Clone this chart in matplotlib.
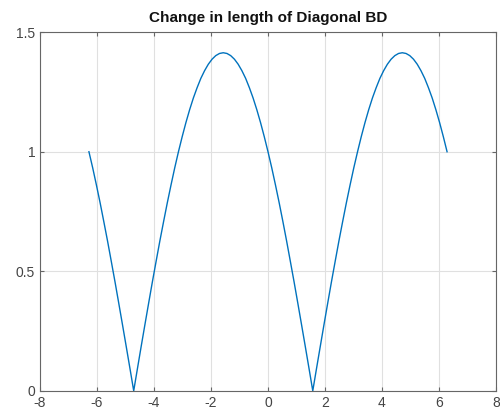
import matplotlib
matplotlib.use("Agg")
import matplotlib.pyplot as plt

# angle samples (radians) and the measured change in length of diagonal BD
x_vals = [-6.283, -6.152, -6.021, -5.890, -5.760, -5.629, -5.498, -5.367,
          -5.236, -5.105, -4.974, -4.843, -4.712, -4.581, -4.451, -4.320,
          -4.189, -4.058, -3.927, -3.796, -3.665, -3.534, -3.403, -3.272,
          -3.142, -3.011, -2.880, -2.749, -2.618, -2.487, -2.356, -2.225,
          -2.094, -1.963, -1.833, -1.702, -1.571, -1.440, -1.309, -1.178,
          -1.047, -0.916, -0.785, -0.654, -0.524, -0.393, -0.262, -0.131,
          0.000,
          0.131, 0.262, 0.393, 0.524, 0.654, 0.785, 0.916, 1.047,
          1.178, 1.309, 1.440, 1.571, 1.702, 1.833, 1.963, 2.094,
          2.225, 2.356, 2.487, 2.618, 2.749, 2.880, 3.011, 3.142,
          3.272, 3.403, 3.534, 3.665, 3.796, 3.927, 4.058, 4.189,
          4.320, 4.451, 4.581, 4.712, 4.843, 4.974, 5.105, 5.236,
          5.367, 5.498, 5.629, 5.760, 5.890, 6.021, 6.152, 6.283]
y_vals = [1.000, 0.933, 0.861, 0.786, 0.707, 0.626, 0.541, 0.455,
          0.366, 0.276, 0.185, 0.093, 0.000, 0.093, 0.185, 0.276,
          0.366, 0.455, 0.541, 0.626, 0.707, 0.786, 0.861, 0.933,
          1.000, 1.063, 1.122, 1.176, 1.225, 1.268, 1.307, 1.339,
          1.366, 1.387, 1.402, 1.411, 1.414, 1.411, 1.402, 1.387,
          1.366, 1.339, 1.307, 1.268, 1.225, 1.176, 1.122, 1.063,
          1.000,
          0.933, 0.861, 0.786, 0.707, 0.626, 0.541, 0.455, 0.366,
          0.276, 0.185, 0.093, 0.000, 0.093, 0.185, 0.276, 0.366,
          0.455, 0.541, 0.626, 0.707, 0.786, 0.861, 0.933, 1.000,
          1.063, 1.122, 1.176, 1.225, 1.268, 1.307, 1.339, 1.366,
          1.387, 1.402, 1.411, 1.414, 1.411, 1.402, 1.387, 1.366,
          1.339, 1.307, 1.268, 1.225, 1.176, 1.122, 1.063, 1.000]

x_ticks = [-8, -6, -4, -2, 0, 2, 4, 6, 8]
y_ticks = [0, 0.5, 1, 1.5]
y_labels = ["0", "0.5", "1", "1.5"]

plt.rcParams["font.family"] = ["Liberation Sans", "DejaVu Sans"]
plt.rcParams["axes.unicode_minus"] = False

fig = plt.figure(figsize=(5.0, 4.18), dpi=100)
ax = fig.add_axes([0.08, 0.065, 0.912, 0.858])

ax.plot(x_vals, y_vals, color="#0072BD", linewidth=1.0)

ax.set_xlim(-8, 8)
ax.set_ylim(0, 1.5)
ax.set_xticks(x_ticks)
ax.set_yticks(y_ticks)
ax.set_yticklabels(y_labels)

ax.grid(True, color="#e0e0e0", linewidth=0.8)
ax.set_axisbelow(True)
ax.tick_params(direction="in", length=3, width=0.8, colors="#666666",
               labelcolor="#444444", labelsize=10, top=True, right=True)
for side in ax.spines.values():
    side.set_color("#666666")
    side.set_linewidth(0.8)

ax.set_title("Change in length of Diagonal BD", fontsize=11, fontweight="bold",
             color="#111111", pad=7)

fig.savefig("out.png", dpi=100)
